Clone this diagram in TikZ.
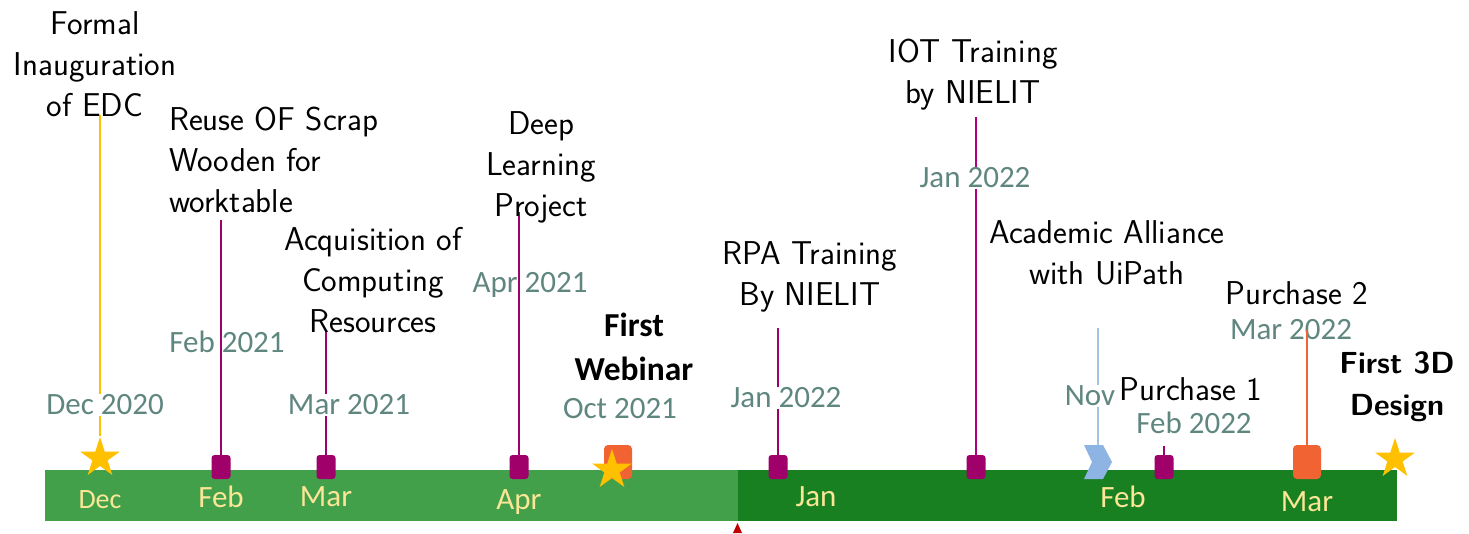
\documentclass[tikz,border=0pt]{standalone}
\usepackage{fontspec}
\newfontfamily\carl{Carlito}
\usetikzlibrary{shapes.geometric}
\definecolor{lgreen}{RGB}{67,160,74}
\definecolor{dgreen}{RGB}{24,128,33}
\definecolor{mag}{RGB}{160,0,106}
\definecolor{ystar}{RGB}{255,192,0}
\definecolor{orng}{RGB}{242,99,52}
\definecolor{chev}{RGB}{141,180,226}
\definecolor{chevline}{RGB}{160,195,228}
\definecolor{datecol}{RGB}{96,134,128}
\definecolor{monthcol}{RGB}{250,230,150}
\definecolor{redc}{RGB}{192,0,0}
\tikzset{
 evt/.style={font=\sffamily\fontsize{33}{41}\selectfont, align=center, inner sep=1pt, text=black},
 evtb/.style={font=\sffamily\bfseries\fontsize{30.5}{42}\selectfont, align=center, inner sep=1pt},
 web/.style={font=\carl\bfseries\fontsize{33.5}{44}\selectfont, align=center, inner sep=1pt},
 datelbl/.style={font=\carl\fontsize{31}{36}\selectfont, text=datecol, inner sep=1pt},
 datebg/.style={datelbl, fill=white},
 month/.style={font=\carl\fontsize{31}{34}\selectfont, text=monthcol, inner sep=0pt},
 sq/.style={rectangle, rounded corners=3pt, fill=mag, minimum width=19pt, minimum height=24pt, inner sep=0pt},
 osq/.style={rectangle, rounded corners=4pt, fill=orng, minimum width=28pt, minimum height=34pt, inner sep=0pt},
 starmk/.style={star, star points=5, star point ratio=2.618, fill=ystar, minimum size=42pt, inner sep=0pt},
 stem/.style={line width=2pt}
}
\begin{document}
\begin{tikzpicture}[x=1pt,y=-1pt]
\useasboundingbox (0,0) rectangle (1469,533);
% bar
\fill[lgreen] (45,470) rectangle (738,521);
\fill[dgreen] (738,470) rectangle (1397,521);
\fill[redc] (733,533) -- (737.5,523) -- (742,533) -- cycle;
% month labels
\node[month, font=\carl\fontsize{28}{34}\selectfont] (mdec) at (100,500) {Dec};
\node[month] (mfeb) at (221,497) {Feb};
\node[month] (mmar) at (326,497) {Mar};
\node[month] (mapr) at (519,502) {Apr};
\node[month] (mjan) at (816,497) {Jan};
\node[month] (mfeb2) at (1123,497) {Feb};
\node[month] (mmar2) at (1307,502) {Mar};
% markers
\node[starmk] (s1) at (100,458) {};
\node[sq] (q1) at (221,467) {};
\node[sq] (q2) at (326,467) {};
\node[sq] (q3) at (519,467) {};
\node[osq] (o1) at (618,462) {};
\node[starmk] (s2) at (612,470) {};
\node[sq] (q4) at (778,467) {};
\node[sq] (q5) at (976,467) {};
\fill[chev] (1084,445) -- (1103,445) -- (1112,462) -- (1103,479) -- (1084,479) -- (1092,462) -- cycle;
\coordinate (nov) at (1098,445);
\node[sq] (q6) at (1164,467) {};
\node[osq] (o2) at (1307,462) {};
\node[starmk] (s3) at (1395,459) {};
% stem tops
\coordinate (t1) at (100,115);
\coordinate (t2) at (221,220);
\coordinate (t3) at (326,330);
\coordinate (t4) at (519,212);
\coordinate (t5) at (778,328);
\coordinate (t6) at (976,117);
\coordinate (t7) at (1098,328);
\coordinate (t8) at (1164,446);
\coordinate (t9) at (1307,330);
% stems
\draw[stem, ystar] (s1.north) -- (t1);
\draw[stem, mag] (q1.north) -- (t2);
\draw[stem, mag] (q2.north) -- (t3);
\draw[stem, mag] (q4.north) -- (t5);
\draw[stem, mag!85!magenta] (q5.north) -- (t6);
\draw[stem, chevline] (nov) -- (t7);
\draw[stem, mag] (q6.north) -- (t8);
% dates (interrupting stems)
\node[datebg] (d1) at (105,405) {Dec 2020};
\node[datelbl] (d2) at (227,342) {Feb 2021};
\node[datebg] (d3) at (349,405) {Mar 2021};
\node[datelbl] (d4) at (530,285) {Apr 2021};
\node[datelbl] (d5) at (620,409) {Oct 2021};
\node[datebg] (d6) at (786,398) {Jan 2022};
\node[datebg] (d7) at (975,178) {Jan 2022};
\node[datebg] (d8) at (1090,396) {Nov};
\node[datelbl] (d9) at (1194,423) {Feb 2022};
\node[datelbl] (d10) at (1291,330) {Mar 2022};
% stems over dates
\draw[stem, mag] (q3.north) -- (t4);
\draw[stem, orng] (o2.north) -- (t9);
% event labels
\node[evt] (e1) at (95,64) {Formal\\Inauguration\\of EDC};
\node[evt, anchor=west, align=left] (e2) at (168,160) {Reuse OF Scrap\\Wooden for\\worktable};
\node[evt] (e3) at (373,280) {Acquisition of\\Computing\\Resources};
\node[evt] (e4) at (541,167) {Deep\\Learning\\Project};
\node[web] (e5) at (634,347) {First\\Webinar};
\node[evt] (e6) at (810,277) {RPA Training\\By NIELIT};
\node[evt] (e7) at (973,75) {IOT Training\\by NIELIT};
\node[evt] (e8) at (1107,253) {Academic Alliance\\with UiPath};
\node[evt] (e9) at (1191,389) {Purchase 1};
\node[evt] (e10) at (1297,293) {Purchase 2};
\node[evtb] (e11) at (1397,387) {First 3D\\Design};
\end{tikzpicture}
\end{document}
